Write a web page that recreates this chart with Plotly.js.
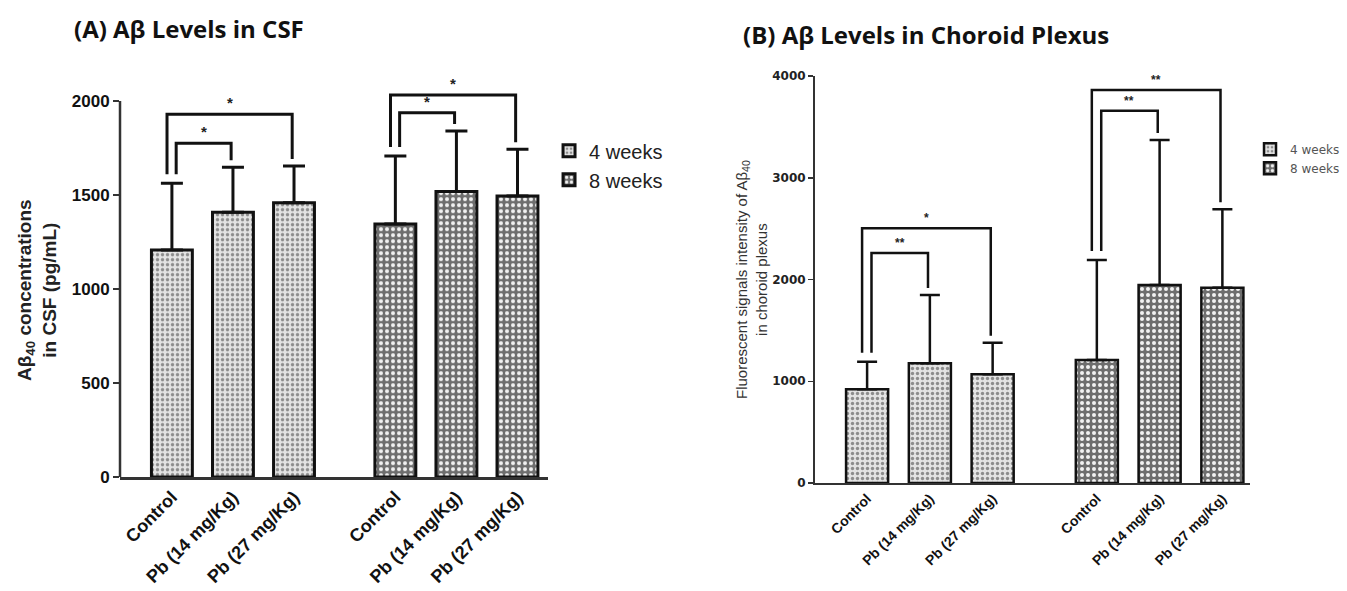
<!DOCTYPE html>
<html>
<head>
<meta charset="utf-8">
<script src="https://cdn.plot.ly/plotly-3.0.1.min.js"></script>
<style>html,body{margin:0;padding:0;background:#fff;}#chart{width:1347px;height:591px;}</style>
</head>
<body>
<div id="chart"></div>
<script>
// ---- data ----
const categories = ['Control', 'Pb (14 mg/Kg)', 'Pb (27 mg/Kg)'];
const groupNames = ['4 weeks', '8 weeks'];

// (A) CSF, pg/mL
const csfMean4w = [1207, 1408, 1459];
const csfSd4w   = [355, 239, 195];
const csfMean8w = [1346, 1518, 1495];
const csfSd8w   = [361, 322, 248];

// (B) Choroid plexus, fluorescence intensity
const cpMean4w = [921, 1176, 1068];
const cpSd4w   = [271, 672, 311];
const cpMean8w = [1209, 1946, 1920];
const cpSd8w   = [983, 1425, 770];

// significance brackets: [vs Pb27 (outer), vs Pb14 (inner)]
const bracketTargets = [2, 1];
const csfBracket4w = [1929, 1775];
const csfBracket8w = [2032, 1938];
const csfLabels4w = ['*', '*'];
const csfLabels8w = ['*', '*'];
const cpBracket4w = [2503, 2260];
const cpBracket8w = [3862, 3659];
const cpLabels4w = ['*', '**'];
const cpLabels8w = ['**', '**'];

const yTicksA = [0, 500, 1000, 1500, 2000];
const yTicksB = [0, 1000, 2000, 3000, 4000];

// ---- layout helpers ----
const GROUP_GAP = 0.66;
function pos(g) { return categories.map((c, i) => i + g * (categories.length + GROUP_GAP)); }
const x4 = pos(0), x8 = pos(1);
const allX = x4.concat(x8);
const allTickText = categories.concat(categories);

const W = 1347, H = 591;
const domAx = [0.08909, 0.40683], domAy = [0.19289, 0.86091];
const domBx = [0.60505, 0.92799], domBy = [0.18274, 0.87140];
const rangeAy = [0, 2100], rangeBy = [0, 4000];
const upxA = (rangeAy[1] - rangeAy[0]) / ((domAy[1] - domAy[0]) * H);
const upxB = (rangeBy[1] - rangeBy[0]) / ((domBy[1] - domBy[0]) * H);

const pat4 = {shape: '.', fgcolor: '#8c8c8c', bgcolor: '#e3e3e3', size: 5, solidity: 0.35};
const pat8 = {shape: '.', fgcolor: '#f2f2f2', bgcolor: '#6e6e6e', size: 6, solidity: 0.35};

function barTrace(x, y, sd, name, pat, xa, ya, leg, lw, ew, et) {
  return {
    type: 'bar', x: x, y: y, name: name, xaxis: xa, yaxis: ya, legend: leg,
    width: 0.67,
    marker: {color: pat.bgcolor, pattern: pat, line: {color: '#111', width: lw}},
    error_y: {type: 'data', symmetric: false, array: sd, arrayminus: sd.map(() => 0),
              color: '#111', thickness: et, width: ew},
    hoverinfo: 'x+y'
  };
}

const traces = [
  barTrace(x4, csfMean4w, csfSd4w, groupNames[0], pat4, 'x', 'y', 'legend', 3, 11, 3),
  barTrace(x8, csfMean8w, csfSd8w, groupNames[1], pat8, 'x', 'y', 'legend', 3, 11, 3),
  barTrace(x4, cpMean4w, cpSd4w, groupNames[0], pat4, 'x2', 'y2', 'legend2', 2.5, 10, 2.5),
  barTrace(x8, cpMean8w, cpSd8w, groupNames[1], pat8, 'x2', 'y2', 'legend2', 2.5, 10, 2.5)
];

const shapes = [];
const annotations = [];

function brackets(xs, means, sds, heights, labels, xa, ya, upx, lw, starSize) {
  const capL = means[0] + sds[0];
  heights.forEach((h, k) => {
    const t = bracketTargets[k];
    const xl = xs[0] + (k === 0 ? -0.08 : 0.07);
    const xr = xs[t] - 0.03;
    const yl = capL + 9 * upx;
    const yr = means[t] + sds[t] + 7 * upx;
    shapes.push({type: 'path', xref: xa, yref: ya,
      path: `M${xl},${yl} L${xl},${h} L${xr},${h} L${xr},${yr}`,
      line: {color: '#111', width: lw}});
    annotations.push({xref: xa, yref: ya, x: (xl + xr) / 2, y: h, yanchor: 'bottom',
      yshift: 1, text: labels[k], showarrow: false,
      font: {family: 'Liberation Sans, Arial', size: starSize, color: '#222', weight: 'bold'}});
  });
}
brackets(x4, csfMean4w, csfSd4w, csfBracket4w, csfLabels4w, 'x', 'y', upxA, 3, 15);
brackets(x8, csfMean8w, csfSd8w, csfBracket8w, csfLabels8w, 'x', 'y', upxA, 3, 15);
brackets(x4, cpMean4w, cpSd4w, cpBracket4w, cpLabels4w, 'x2', 'y2', upxB, 2.5, 12);
brackets(x8, cpMean8w, cpSd8w, cpBracket8w, cpLabels8w, 'x2', 'y2', upxB, 2.5, 12);

// left y axis line only up to the top tick
shapes.push({type: 'line', xref: 'x domain', yref: 'y', x0: 0, x1: 0,
  y0: yTicksA[0], y1: yTicksA[yTicksA.length - 1], line: {color: '#333', width: 2.5}});

// titles
annotations.push({xref: 'paper', yref: 'paper', x: 0.1403, y: 0.9526, xanchor: 'center', yanchor: 'middle',
  text: '<b>(A) Aβ Levels in CSF</b>', showarrow: false,
  font: {family: 'Open Sans', size: 24, color: '#111'}});
annotations.push({xref: 'paper', yref: 'paper', x: 0.6875, y: 0.9408, xanchor: 'center', yanchor: 'middle',
  text: '<b>(B) Aβ Levels in Choroid Plexus</b>', showarrow: false,
  font: {family: 'Open Sans', size: 24, color: '#111'}});
// y axis titles
annotations.push({xref: 'paper', yref: 'paper', x: 37 / W, y: 1 - 290 / H, xanchor: 'center', yanchor: 'middle',
  textangle: -90, text: '<b>Aβ<sub>40</sub> concentrations<br>in CSF (pg/mL)</b>', showarrow: false,
  font: {family: 'Liberation Sans, Arial', size: 19, color: '#222'}});
annotations.push({xref: 'paper', yref: 'paper', x: 752 / W, y: 1 - 280 / H, xanchor: 'center', yanchor: 'middle',
  textangle: -90, text: 'Fluorescent signals intensity of Aβ<sub>40</sub><br>in choroid plexus', showarrow: false,
  font: {family: 'Liberation Sans, Arial', size: 15, color: '#333'}});

const xCommon = {tickmode: 'array', tickvals: allX, ticktext: allTickText, tickangle: -45,
  showgrid: false, zeroline: false, showline: true, linecolor: '#333', ticks: '', fixedrange: true};
const layout = {
  width: W, height: H,
  margin: {l: 0, r: 0, t: 0, b: 0},
  paper_bgcolor: '#fff', plot_bgcolor: 'rgba(0,0,0,0)',
  barmode: 'overlay',
  showlegend: true,
  xaxis: Object.assign({}, xCommon, {domain: domAx, range: [-0.85, 6.16], anchor: 'y', linewidth: 2.5,
    tickfont: {family: 'Liberation Sans, Arial', size: 18, color: '#111', weight: 'bold'}}),
  yaxis: {domain: domAy, range: rangeAy, anchor: 'x', tickmode: 'array', tickvals: yTicksA,
    ticktext: yTicksA.map(String), ticks: 'outside', ticklen: 6, tickwidth: 2, tickcolor: '#333',
    showline: false, showgrid: false, zeroline: false, fixedrange: true,
    tickfont: {family: 'Liberation Sans, Arial', size: 17, color: '#111', weight: 'bold'}},
  xaxis2: Object.assign({}, xCommon, {domain: domBx, range: [-0.83, 6.1], anchor: 'y2', linewidth: 2,
    tickfont: {family: 'Liberation Sans, Arial', size: 14, color: '#111', weight: 'bold'}}),
  yaxis2: {domain: domBy, range: rangeBy, anchor: 'x2', tickmode: 'array', tickvals: yTicksB,
    ticktext: yTicksB.map(String), ticks: 'outside', ticklen: 5, tickwidth: 1.5, tickcolor: '#333',
    showline: true, linecolor: '#333', linewidth: 2, showgrid: false, zeroline: false, fixedrange: true,
    tickfont: {family: 'DejaVu Sans', size: 12, color: '#222', weight: 'bold'}},
  legend: {x: 0.4076, y: 0.778, xanchor: 'left', yanchor: 'top', bgcolor: 'rgba(0,0,0,0)',
    font: {family: 'Liberation Sans, Arial', size: 20, color: '#222'}, tracegroupgap: 0},
  legend2: {x: 0.928, y: 0.772, xanchor: 'left', yanchor: 'top', bgcolor: 'rgba(0,0,0,0)',
    font: {family: 'DejaVu Sans', size: 12, color: '#555'}, tracegroupgap: 0},
  shapes: shapes,
  annotations: annotations
};

Plotly.newPlot('chart', traces, layout, {displayModeBar: false, staticPlot: true});
</script>
</body>
</html>
